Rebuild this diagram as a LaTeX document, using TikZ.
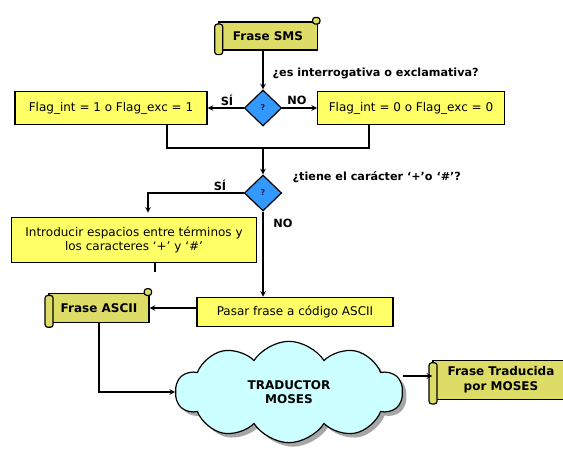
\documentclass[tikz,border=0pt]{standalone}
\usepackage{fontspec}
\setmainfont{DejaVu Sans}
\usetikzlibrary{shapes.geometric, shapes.symbols, shadows, arrows}
\definecolor{boxyellow}{RGB}{255,255,102}
\definecolor{scrollfill}{RGB}{221,220,102}
\definecolor{qblue}{RGB}{51,153,255}
\definecolor{qtext}{RGB}{20,30,90}
\definecolor{cloudcyan}{RGB}{204,255,255}
\tikzstyle{arrow} = [line width=0.9pt,->,>=stealth]
\tikzstyle{line} = [line width=0.9pt]
\tikzstyle{process} = [draw, line width=0.9pt, fill=boxyellow, minimum height=25pt, align=center, inner sep=2pt]
\tikzstyle{scroll} = [draw, line width=0.9pt, fill=scrollfill, font=\fontsize{9}{11}\selectfont\bfseries, align=center, inner sep=2pt]
\tikzstyle{decision} = [draw, line width=0.9pt, fill=qblue, diamond, minimum width=28pt, minimum height=27pt, inner sep=0pt, text=qtext, font=\fontsize{6}{7}\selectfont\bfseries]
\tikzstyle{lbl} = [font=\fontsize{8.5}{10}\selectfont\bfseries]
\tikzstyle{question} = [font=\fontsize{8.4}{10}\selectfont\bfseries, anchor=west]

\begin{document}
\begin{tikzpicture}[x=0.75pt,y=-0.75pt,font=\fontsize{9}{11}\selectfont]
  \useasboundingbox (0,0) rectangle (563,450);

  % nodes
  \node[scroll, minimum width=74pt, minimum height=21pt] (sms) at (268,36) {Frase SMS};
  \node[decision] (q1) at (263,108) {?};
  \node[process, minimum width=144pt] (flag1) at (111,108) {Flag\_int = 1 o Flag\_exc = 1};
  \node[process, minimum width=140pt] (flag0) at (411,108) {Flag\_int = 0 o Flag\_exc = 0};
  \node[decision] (q2) at (263,193) {?};
  \node[process, minimum width=184pt, minimum height=34pt] (intro) at (134,240) {Introducir espacios entre términos y\\los caracteres ‘+’ y ‘\#’};
  \node[process, minimum width=147pt, minimum height=22pt] (pasar) at (295,312) {Pasar frase a código ASCII};
  \node[scroll, minimum width=75pt, minimum height=22pt] (ascii) at (99,308) {Frase ASCII};
  \node[cloud, cloud puffs=10, cloud puff arc=115, aspect=2.2, draw, line width=0.9pt, fill=cloudcyan,
        drop shadow={shadow xshift=3pt, shadow yshift=-3pt, fill=gray!70, opacity=1},
        minimum width=170pt, minimum height=76pt, font=\fontsize{9}{11}\selectfont\bfseries, align=center] (cloud) at (289,392) {TRADUCTOR\\MOSES};
  \node[scroll, minimum width=102pt, minimum height=29pt] (trad) at (501,380) {Frase Traducida\\por MOSES};

  % rolled ends of the scrolls
  \foreach \n in {sms,ascii,trad}{
    \draw[line, fill=scrollfill, rounded corners=2pt] ([xshift=-4pt,yshift=3pt]\n.north east) rectangle ([xshift=1.5pt,yshift=-2pt]\n.north east);
    \draw[line, fill=scrollfill, rounded corners=2pt] ([xshift=-2.5pt,yshift=-2pt]\n.north west) rectangle ([xshift=3.5pt,yshift=-3pt]\n.south west);
  }

  % texts
  \node[question] (t1) at (268,73) {¿es interrogativa o exclamativa?};
  \node[question] (t2) at (288,177) {¿tiene el carácter ‘+’o ‘\#’?};
  \node[lbl] (si1) at (227,100) {SÍ};
  \node[lbl] (no1) at (297,100) {NO};
  \node[lbl] (si2) at (220,185) {SÍ};
  \node[lbl] (no2) at (283,223) {NO};

  \coordinate (jl) at (167,148);
  \coordinate (jr) at (369,148);
  \coordinate (merge) at (263,148);
  \coordinate (bend) at (148,193);
  \coordinate (stub) at (155,272);

  % connectors
  \draw[arrow] (sms.south -| q1) -- (q1.north);
  \draw[arrow] (q1.west) -- (flag1.east);
  \draw[arrow] (q1.east) -- (flag0.west);
  \draw[line] (flag1.south -| jl) -- (jl) -- (jr) -- (flag0.south -| jr);
  \draw[arrow] (merge) -- (q2.north);
  \draw[arrow, shorten >=3pt] (q2.west) -- (bend) -- (bend |- intro.north);
  \draw[line] (intro.south -| stub) -- (stub);
  \draw[arrow] (q2.south) -- (q2.south |- pasar.north);
  \draw[arrow] (ascii.east -| pasar.west) -- (ascii.east);
  \draw[arrow] (ascii.south) |- (cloud.west);
  \draw[arrow] ([yshift=3pt]trad.west -| cloud.east) -- ([yshift=3pt]trad.west);
\end{tikzpicture}
\end{document}
